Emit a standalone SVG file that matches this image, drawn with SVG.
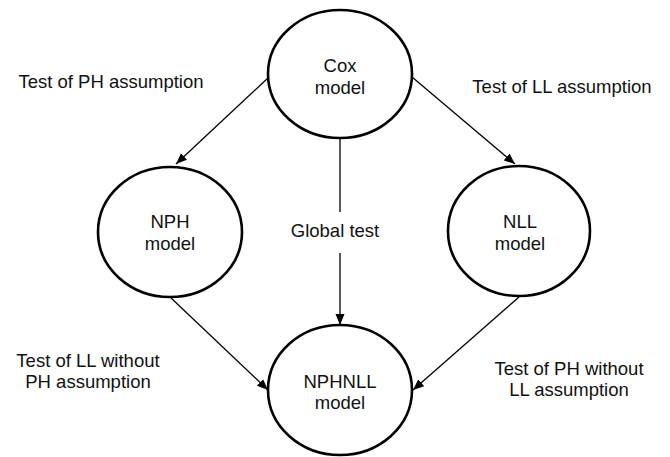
<svg xmlns="http://www.w3.org/2000/svg" width="670" height="457" viewBox="0 0 670 457">
<defs>
<marker id="arr" markerUnits="userSpaceOnUse" markerWidth="12" markerHeight="10" refX="11" refY="5" orient="auto">
<path d="M0,0.5 L11,5 L0,9.5 Z" fill="#000"/>
</marker>
<style>
.node ellipse{fill:#fff;stroke:#000;stroke-width:2.6}
text{font-family:"Liberation Sans",Arial,sans-serif;font-size:18.5px;fill:#111;text-anchor:middle}
.conn line{stroke:#000;stroke-width:1.3;marker-end:url(#arr)}
</style>
</defs>
<rect width="670" height="457" fill="#fff"/>
<g id="connectors" class="conn">
<line x1="268" y1="78" x2="176" y2="164"/>
<line x1="412" y1="77" x2="515" y2="164"/>
<line x1="340" y1="138" x2="340" y2="212" style="marker-end:none"/>
<line x1="340" y1="253" x2="340" y2="325"/>
<line x1="170" y1="297" x2="268" y2="390"/>
<line x1="519" y1="297" x2="413" y2="390"/>
</g>
<g id="cox" class="node">
<ellipse cx="340" cy="74" rx="72" ry="64"/>
<text x="340" y="72">Cox</text>
<text x="340" y="94">model</text>
</g>
<g id="nph" class="node">
<ellipse cx="170" cy="232" rx="72" ry="65"/>
<text x="170" y="228">NPH</text>
<text x="170" y="250">model</text>
</g>
<g id="nll" class="node">
<ellipse cx="519" cy="231" rx="71" ry="65"/>
<text x="520" y="228">NLL</text>
<text x="520" y="250">model</text>
</g>
<g id="nphnll" class="node">
<ellipse cx="340" cy="390" rx="72" ry="65"/>
<text x="340" y="388">NPHNLL</text>
<text x="340" y="409">model</text>
</g>
<g id="labels">
<text x="111" y="88">Test of PH assumption</text>
<text x="562" y="93">Test of LL assumption</text>
<text x="335" y="237">Global test</text>
<text x="88" y="367">Test of LL without</text>
<text x="88" y="388">PH assumption</text>
<text x="569" y="375">Test of PH without</text>
<text x="569" y="396">LL assumption</text>
</g>
</svg>
